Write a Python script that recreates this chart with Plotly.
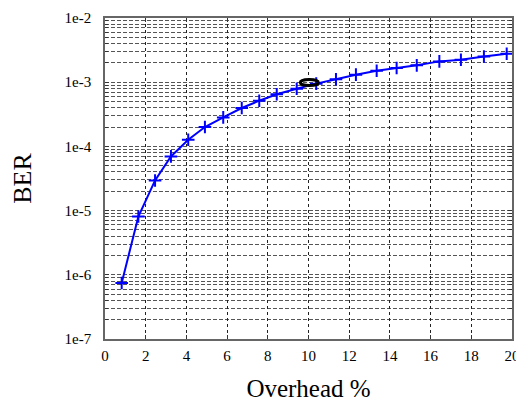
import plotly.graph_objects as go

overhead = [0.82, 1.64, 2.46, 3.24, 4.09, 4.91, 5.81, 6.72, 7.58, 8.44, 9.42,
            10.38, 11.35, 12.33, 13.35, 14.33, 15.32, 16.43, 17.49, 18.62, 19.74]
ber = [7.45e-7, 8.1e-6, 2.95e-5, 6.98e-5, 1.27e-4, 2.0e-4, 2.83e-4, 3.96e-4,
       5.15e-4, 6.5e-4, 7.9e-4, 9.5e-4, 1.11e-3, 1.31e-3, 1.51e-3, 1.66e-3,
       1.83e-3, 2.11e-3, 2.24e-3, 2.52e-3, 2.78e-3]

highlight_x = [10.04]
highlight_y = [8.9e-4]

x_ticks = [0, 2, 4, 6, 8, 10, 12, 14, 16, 18, 20]
y_ticks = [1e-7, 1e-6, 1e-5, 1e-4, 1e-3, 1e-2]
y_ticktext = ["1e-7", "1e-6", "1e-5", "1e-4", "1e-3", "1e-2"]
minor_vals = [m * d for d in [1e-7, 1e-6, 1e-5, 1e-4, 1e-3] for m in range(2, 10)]

font_family = "Liberation Serif, Times New Roman, serif"

fig = go.Figure()
fig.add_trace(go.Scatter(
    x=overhead, y=ber, mode="lines+markers",
    line=dict(color="#0000ff", width=2),
    marker=dict(symbol="cross-thin", size=9, line=dict(color="#0000ff", width=2)),
    showlegend=False,
))

fig.add_shape(type="circle", xref="x", yref="y",
              xsizemode="pixel", ysizemode="pixel",
              xanchor=highlight_x[0], yanchor=highlight_y[0],
              x0=-9, x1=9, y0=-6, y1=6,
              line=dict(color="black", width=3))

fig.update_layout(
    width=516, height=394,
    margin=dict(l=97, r=12, t=10, b=63),
    paper_bgcolor="white", plot_bgcolor="white",
    font=dict(family=font_family, color="black", size=15),
)

fig.update_xaxes(
    range=[0, 20], tickvals=x_ticks, ticks="inside", ticklen=4, tickcolor="#333",
    showgrid=True, gridcolor="#222", gridwidth=1, griddash="3px,3px",
    showline=True, linecolor="#666", linewidth=1.5, mirror="ticks",
    zeroline=False, ticklabelstandoff=2, automargin=False,
    tickfont=dict(size=15, family=font_family),
    title=dict(text="Overhead %", font=dict(size=25, family=font_family), standoff=19),
)
fig.update_yaxes(
    type="log", range=[-7, -2], tickvals=y_ticks, ticktext=y_ticktext,
    ticks="inside", ticklen=4, tickcolor="#333",
    showgrid=True, gridcolor="#555", gridwidth=1, griddash="4px,2px",
    minor=dict(tickvals=minor_vals, showgrid=True, gridcolor="#555", gridwidth=1,
               griddash="4px,2px", ticks="inside", ticklen=3, tickcolor="#333"),
    showline=True, linecolor="#666", linewidth=1.5, mirror="ticks",
    zeroline=False, ticklabelstandoff=9, automargin=False,
    tickfont=dict(size=15, family=font_family),
    title=dict(text="BER", font=dict(size=26, family=font_family), standoff=38),
)

fig.write_html("out.html")
